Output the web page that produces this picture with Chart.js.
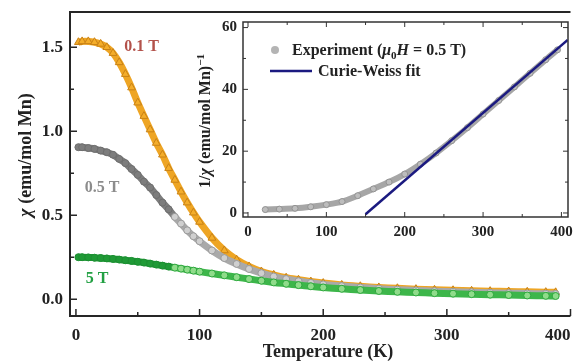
<!DOCTYPE html>
<html>
<head>
<meta charset="utf-8">
<script src="https://cdn.jsdelivr.net/npm/chart.js@4.4.0/dist/chart.umd.min.js"></script>
<style>
  html, body { margin: 0; padding: 0; background: #fff; overflow: hidden; }
  #wrap { position: relative; width: 576px; height: 362px; overflow: hidden; }
  #main { position: absolute; left: 0; top: 0; }
  #inset { position: absolute; left: 186px; top: 8px; }
</style>
</head>
<body>
<div id="wrap">
  <canvas id="main" width="576" height="362"></canvas>
  <canvas id="inset" width="390" height="248"></canvas>
</div>
<script>
// main panel: chi(T) at three fields
const temps = [2, 5, 10, 15, 20, 25, 30, 35, 40, 45, 50, 55, 60, 65, 70, 75, 80, 85, 90, 95, 100,
               110, 120, 130, 140, 150, 160, 170, 180, 190, 200,
               215, 230, 245, 260, 275, 290, 305, 320, 335, 350, 365, 380, 388];
const chi01 = [1.53, 1.535, 1.535, 1.53, 1.52, 1.50, 1.465, 1.41, 1.34, 1.26, 1.17, 1.09, 1.01, 0.93, 0.86, 0.78, 0.71, 0.64, 0.575, 0.515, 0.46,
               0.365, 0.29, 0.235, 0.195, 0.165, 0.145, 0.128, 0.116, 0.105, 0.096,
               0.085, 0.077, 0.07, 0.065, 0.06, 0.056, 0.053, 0.05, 0.048, 0.046, 0.044, 0.042, 0.041];
const chi05 = [0.905, 0.905, 0.90, 0.895, 0.885, 0.875, 0.86, 0.835, 0.81, 0.775, 0.74, 0.70, 0.665, 0.62, 0.575, 0.535, 0.49, 0.45, 0.41, 0.375, 0.345,
               0.29, 0.245, 0.21, 0.18, 0.155, 0.135, 0.12, 0.107, 0.097, 0.088,
               0.078, 0.07, 0.063, 0.057, 0.052, 0.048, 0.044, 0.041, 0.038, 0.036, 0.034, 0.032, 0.031];
const chi5 = [0.25, 0.25, 0.249, 0.247, 0.245, 0.243, 0.24, 0.236, 0.232, 0.228, 0.223, 0.218, 0.212, 0.206, 0.2, 0.194, 0.188, 0.182, 0.176, 0.17, 0.164,
              0.153, 0.142, 0.131, 0.12, 0.11, 0.1, 0.092, 0.084, 0.077, 0.07,
              0.062, 0.055, 0.049, 0.044, 0.04, 0.036, 0.033, 0.03, 0.027, 0.025, 0.022, 0.02, 0.019];

// inset: 1/chi at 0.5 T and Curie-Weiss fit
const insetT = [22, 40, 60, 80, 100, 120, 140, 160, 180, 200, 220, 240, 260, 280, 300, 320, 340, 360, 380, 395];
const invChi = [1.1, 1.25, 1.5, 2.0, 2.7, 3.7, 5.6, 7.8, 10.0, 12.6, 15.8, 19.4, 23.4, 27.6, 32.0, 36.4, 40.8, 45.2, 49.6, 52.8];
const fitT = [150, 408];
const fitInv = [-0.4, 56];

// ticks
const mainXMajor = [0, 100, 200, 300, 400];
const mainXMinor = [50, 150, 250, 350];
const mainYMajor = [0, 0.5, 1.0, 1.5];
const mainYMinor = [0.25, 0.75, 1.25];
const insetXMajor = [0, 100, 200, 300, 400];
const insetXMinor = [50, 150, 250, 350];
const insetYMajor = [0, 20, 40, 60];
const insetYMinor = [10, 30, 50];

const SERIF = "'Liberation Serif', 'Times New Roman', serif";
Chart.defaults.font.family = SERIF;
Chart.defaults.font.weight = 'bold';
Chart.defaults.color = '#222';
Chart.defaults.animation = false;

function pts(xs, ys) { return xs.map((x, i) => ({ x: x, y: ys[i] })); }

// fixed axis boxes so the plot frames land where they should
function fixBox(w, h) {
  return s => {
    if (w !== null) s.width = w;
    if (h !== null) s.height = h;
    s.paddingTop = 0; s.paddingBottom = 0; s.paddingLeft = 0; s.paddingRight = 0;
  };
}

// bold serif text with italic / sub / sup pieces
function richText(ctx, parts, size, x, y, rotate, align) {
  const fontOf = p => (p.i ? 'italic ' : '') + 'bold ' + Math.round(p.sub || p.sup ? size * 0.68 : size) + 'px ' + SERIF;
  let w = 0;
  parts.forEach(p => { ctx.font = fontOf(p); w += ctx.measureText(p.t).width; });
  ctx.save();
  ctx.translate(x, y);
  if (rotate) ctx.rotate(-Math.PI / 2);
  ctx.textAlign = 'left';
  ctx.textBaseline = 'alphabetic';
  let cx = align === 'left' ? 0 : -w / 2;
  parts.forEach(p => {
    ctx.font = fontOf(p);
    const dy = p.sub ? size * 0.22 : p.sup ? -size * 0.38 : 0;
    ctx.fillText(p.t, cx, dy);
    cx += ctx.measureText(p.t).width;
  });
  ctx.restore();
}

// frame and inward tick marks
const frameTicks = {
  id: 'frameTicks',
  beforeDatasetsDraw(chart, args, o) {
    if (!o.fill) return;
    const a = chart.chartArea, ctx = chart.ctx;
    ctx.save();
    ctx.fillStyle = o.fill;
    ctx.fillRect(a.left, a.top, a.right - a.left, a.bottom - a.top);
    ctx.restore();
  },
  afterDraw(chart, args, o) {
    const { ctx, chartArea: a, scales: { x, y } } = chart;
    ctx.save();
    ctx.strokeStyle = o.color;
    ctx.lineWidth = o.width;
    ctx.beginPath();
    if (o.sides.includes('top')) { ctx.moveTo(a.left, a.top); ctx.lineTo(a.right, a.top); }
    if (o.sides.includes('bottom')) { ctx.moveTo(a.left, a.bottom); ctx.lineTo(a.right, a.bottom); }
    if (o.sides.includes('left')) { ctx.moveTo(a.left, a.top - o.width / 2); ctx.lineTo(a.left, a.bottom + o.width / 2); }
    if (o.sides.includes('right')) { ctx.moveTo(a.right, a.top - o.width / 2); ctx.lineTo(a.right, a.bottom + o.width / 2); }
    ctx.stroke();
    ctx.lineWidth = o.tickWidth;
    ctx.beginPath();
    const xt = (v, len) => {
      const p = x.getPixelForValue(v);
      if (o.ticks.includes('bottom')) { ctx.moveTo(p, a.bottom); ctx.lineTo(p, a.bottom - len); }
      if (o.ticks.includes('top')) { ctx.moveTo(p, a.top); ctx.lineTo(p, a.top + len); }
    };
    const yt = (v, len) => {
      const p = y.getPixelForValue(v);
      if (o.ticks.includes('left')) { ctx.moveTo(a.left, p); ctx.lineTo(a.left + len, p); }
      if (o.ticks.includes('right')) { ctx.moveTo(a.right, p); ctx.lineTo(a.right - len, p); }
    };
    o.xMajor.forEach(v => xt(v, o.major));
    o.xMinor.forEach(v => xt(v, o.minor));
    o.yMajor.forEach(v => yt(v, o.major));
    o.yMinor.forEach(v => yt(v, o.minor));
    ctx.stroke();
    ctx.restore();
    if (o.extra) o.extra(chart);
  }
};

const dark = (t) => t < 80;

// 1. Main panel
new Chart(document.getElementById('main').getContext('2d'), {
  type: 'line',
  data: {
    datasets: [
      {
        label: '0.1 T',
        data: pts(temps, chi01),
        order: 2,
        borderColor: '#eea524',
        borderWidth: 7,
        tension: 0.3,
        pointStyle: 'triangle',
        pointRadius: 4.5,
        pointBackgroundColor: '#f4ad2a',
        pointBorderColor: '#c98216',
        pointBorderWidth: 1
      },
      {
        label: '0.5 T',
        data: pts(temps, chi05),
        order: 1,
        borderWidth: 7,
        tension: 0.3,
        segment: { borderColor: c => dark(c.p0.parsed.x) ? '#7d7d7d' : '#a9a9a9' },
        pointRadius: 3.5,
        pointBackgroundColor: c => dark(temps[c.dataIndex]) ? '#7d7d7d' : '#cfcfcf',
        pointBorderColor: c => dark(temps[c.dataIndex]) ? '#6e6e6e' : '#9a9a9a',
        pointBorderWidth: 1
      },
      {
        label: '5 T',
        data: pts(temps, chi5),
        order: 0,
        borderWidth: 7,
        tension: 0.3,
        segment: { borderColor: c => dark(c.p0.parsed.x) ? '#1f9a36' : '#3db64a' },
        pointRadius: 3.5,
        pointBackgroundColor: c => dark(temps[c.dataIndex]) ? '#1f9a36' : '#8fdc8a',
        pointBorderColor: c => dark(temps[c.dataIndex]) ? '#1c8e32' : '#2ea83e',
        pointBorderWidth: 1
      }
    ]
  },
  options: {
    responsive: false,
    animation: false,
    layout: { padding: { top: 12, left: 0, right: 0, bottom: 0 } },
    plugins: {
      legend: { display: false },
      tooltip: { enabled: false },
      frameTicks: {
        color: '#262626', width: 2, tickWidth: 1.5, major: 7, minor: 4,
        sides: ['top', 'left', 'bottom'], ticks: ['left', 'bottom'],
        xMajor: mainXMajor, xMinor: mainXMinor, yMajor: mainYMajor, yMinor: mainYMinor,
        extra: chart => {
          const { ctx, scales: { x, y } } = chart;
          ctx.fillStyle = '#222';
          richText(ctx, [{ t: 'χ', i: true }, { t: ' (emu/mol Mn)' }], 18, 31, 155, true);
          richText(ctx, [{ t: 'Temperature (K)' }], 18, 328, 357, false);
          const notes = [
            { text: '0.1 T', color: '#b3524b', t: 39, v: 1.476 },
            { text: '0.5 T', color: '#8c8c8c', t: 7.2, v: 0.637 },
            { text: '5 T', color: '#22a043', t: 8, v: 0.095 }
          ];
          notes.forEach(n => {
            ctx.fillStyle = n.color;
            richText(ctx, [{ t: n.text }], 16, x.getPixelForValue(n.t), y.getPixelForValue(n.v), false, 'left');
          });
        }
      }
    },
    scales: {
      x: {
        type: 'linear', min: -4.8, max: 400,
        grid: { display: false, drawTicks: false }, border: { display: false },
        afterBuildTicks: s => { s.ticks = [{ value: -4.8 }].concat(mainXMajor.map(v => ({ value: v }))); },
        ticks: {
          align: 'inner', padding: 9, autoSkip: false, maxRotation: 0,
          font: { size: 17, weight: 'bold' },
          callback: v => v < 0 ? '' : String(v)
        },
        afterFit: fixBox(null, 46)
      },
      y: {
        type: 'linear', min: -0.1, max: 1.71,
        grid: { display: false, drawTicks: false }, border: { display: false },
        afterBuildTicks: s => { s.ticks = mainYMajor.map(v => ({ value: v })); },
        ticks: { padding: 7, font: { size: 17, weight: 'bold' }, callback: v => v.toFixed(1) },
        afterFit: fixBox(70, null)
      }
    }
  },
  plugins: [frameTicks]
});

// 2. Inset: inverse susceptibility
new Chart(document.getElementById('inset').getContext('2d'), {
  type: 'line',
  data: {
    datasets: [
      {
        label: 'Curie-Weiss fit',
        data: pts(fitT, fitInv),
        order: 0,
        borderColor: '#1b1a80',
        borderWidth: 2.5,
        pointRadius: 0
      },
      {
        label: 'Experiment',
        data: pts(insetT, invChi),
        order: 1,
        borderColor: '#a6a6a6',
        borderWidth: 6,
        tension: 0.3,
        pointRadius: 3,
        pointBackgroundColor: '#bdbdbd',
        pointBorderColor: '#939393',
        pointBorderWidth: 1
      }
    ]
  },
  options: {
    responsive: false,
    animation: false,
    layout: { padding: { top: 14, left: 0, right: 8, bottom: 0 } },
    plugins: {
      legend: { display: false },
      tooltip: { enabled: false },
      frameTicks: {
        fill: '#fff', color: '#333', width: 1.5, tickWidth: 1, major: 5, minor: 3,
        sides: ['top', 'left', 'bottom', 'right'], ticks: ['left', 'bottom', 'top', 'right'],
        xMajor: insetXMajor, xMinor: insetXMinor, yMajor: insetYMajor, yMinor: insetYMinor,
        extra: chart => {
          const ctx = chart.ctx;
          ctx.fillStyle = '#222';
          richText(ctx, [{ t: '1/' }, { t: 'χ', i: true }, { t: ' (emu/mol Mn)' }, { t: '−1', sup: true }], 16, 24, 113, true);
          // legend
          ctx.save();
          ctx.fillStyle = '#b4b4b4';
          ctx.beginPath();
          ctx.arc(89, 42, 4, 0, Math.PI * 2);
          ctx.fill();
          ctx.strokeStyle = '#1b1a80';
          ctx.lineWidth = 2.5;
          ctx.beginPath();
          ctx.moveTo(84, 63);
          ctx.lineTo(126, 63);
          ctx.stroke();
          ctx.restore();
          ctx.fillStyle = '#222';
          richText(ctx, [{ t: 'Experiment (' }, { t: 'μ', i: true }, { t: '0', sub: true }, { t: 'H', i: true }, { t: ' = 0.5 T)' }], 16, 106, 47, false, 'left');
          richText(ctx, [{ t: 'Curie-Weiss fit' }], 16, 132, 68, false, 'left');
        }
      }
    },
    scales: {
      x: {
        type: 'linear', min: -6.4, max: 408.4,
        grid: { display: false, drawTicks: false }, border: { display: false },
        afterBuildTicks: s => { s.ticks = insetXMajor.map(v => ({ value: v })); },
        ticks: { padding: 6, autoSkip: false, maxRotation: 0, font: { size: 15, weight: 'bold' } },
        afterFit: fixBox(null, 39)
      },
      y: {
        type: 'linear', min: -1.3, max: 61.8,
        grid: { display: false, drawTicks: false }, border: { display: false },
        afterBuildTicks: s => { s.ticks = insetYMajor.map(v => ({ value: v })); },
        ticks: { padding: 6, font: { size: 15, weight: 'bold' } },
        afterFit: fixBox(57, null)
      }
    }
  },
  plugins: [frameTicks]
});
</script>
</body>
</html>
